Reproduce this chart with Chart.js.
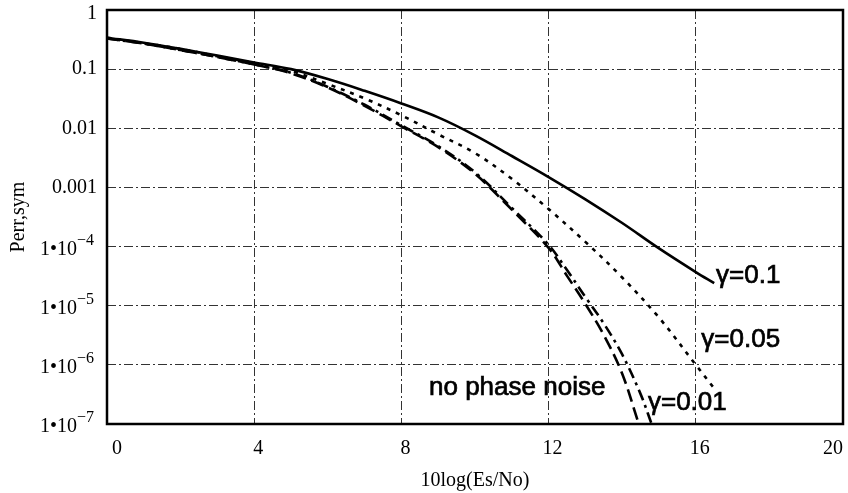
<!DOCTYPE html>
<html>
<head>
<meta charset="utf-8">
<script src="https://cdn.jsdelivr.net/npm/chart.js@4.4.0/dist/chart.umd.min.js"></script>
<style>
  html, body { margin: 0; padding: 0; background: #fff; }
</style>
</head>
<body>
<canvas id="perr" width="848" height="493"></canvas>
<script>
// ------- Data -------
// Es/No in dB
let xGamma10 = [0, 1, 2, 3, 4, 5, 6, 7, 8, 9, 10, 11, 12, 13, 14, 15, 16, 16.5];
let pGamma10 = [0.34, 0.28, 0.22, 0.17, 0.13, 0.1, 0.068, 0.043, 0.0263, 0.0153, 0.0076, 0.0034, 0.0015, 6.3e-4, 2.5e-4, 9.3e-5, 3.7e-5, 2.4e-5];

let xGamma05 = [0, 1, 2, 3, 4, 5, 6, 7, 8, 9, 10, 11, 12, 13, 14, 15, 16, 16.5];
let pGamma05 = [0.34, 0.275, 0.22, 0.165, 0.126, 0.093, 0.056, 0.032, 0.0166, 0.0079, 0.0038, 0.0014, 4.3e-4, 1.2e-4, 3.0e-5, 6.3e-6, 1.0e-6, 4.0e-7];

let xGamma01 = [0, 1, 2, 3, 4, 5, 6, 7, 8, 9, 10, 11, 12, 12.5, 13, 13.5, 14, 14.5, 14.8];
let pGamma01 = [0.33, 0.27, 0.21, 0.16, 0.12, 0.087, 0.05, 0.025, 0.0112, 0.005, 0.0018, 4.5e-4, 1.07e-4, 4.0e-5, 1.4e-5, 5.0e-6, 1.5e-6, 3.2e-7, 1.0e-7];

let xNoNoise = [0, 1, 2, 3, 4, 5, 6, 7, 8, 9, 10, 11, 12, 12.5, 13, 13.5, 14, 14.45];
let pNoNoise = [0.33, 0.27, 0.21, 0.16, 0.12, 0.085, 0.049, 0.024, 0.0108, 0.0048, 0.0017, 4.2e-4, 9.5e-5, 3.2e-5, 1.07e-5, 3.2e-6, 7.1e-7, 1.0e-7];

// axis ticks
let xTicks = [0, 4, 8, 12, 16, 20];
let yTicks = [1, 0.1, 0.01, 0.001, 1e-4, 1e-5, 1e-6, 1e-7];
let yTickBase = ["1", "0.1", "0.01", "0.001", "1\u202210", "1\u202210", "1\u202210", "1\u202210"];
let yTickExp = ["", "", "", "", "\u22124", "\u22125", "\u22126", "\u22127"];

// curve labels
let curveLabels = ["\u03b3=0.1", "\u03b3=0.05", "\u03b3=0.01", "no phase noise"];
let labelX = [16.55, 16.15, 14.7, 8.75];
let labelY = [2.4e-5, 2.0e-6, 1.7e-7, 3.1e-7];

function points(xs, ys) {
  return xs.map((x, i) => ({ x: x, y: ys[i] }));
}

// ------- Frame, tick labels, titles -------
const SERIF = "'Liberation Serif', 'Times New Roman', serif";
const SANS = "'Liberation Sans', Arial, sans-serif";

let decorations = {
  id: "decorations",
  afterDraw(chart) {
    let ctx = chart.ctx,
      area = chart.chartArea,
      xs = chart.scales.x,
      ys = chart.scales.y;
    ctx.save();

    // plot frame
    ctx.strokeStyle = "#000";
    ctx.lineWidth = 2.5;
    ctx.strokeRect(area.left, area.top, area.right - area.left, area.bottom - area.top);

    ctx.fillStyle = "#000";

    // y tick labels
    yTicks.forEach((v, i) => {
      let py = ys.getPixelForValue(v);
      if (i == 0) py += 4;
      if (yTickExp[i] == "") {
        ctx.font = "20px " + SERIF;
        ctx.textAlign = "right";
        ctx.textBaseline = "middle";
        ctx.fillText(yTickBase[i], 97, py);
      } else {
        ctx.font = "16px " + SERIF;
        let expW = ctx.measureText(yTickExp[i]).width;
        ctx.textAlign = "right";
        ctx.textBaseline = "alphabetic";
        ctx.fillText(yTickExp[i], 94, py - 2);
        ctx.font = "20px " + SERIF;
        ctx.fillText(yTickBase[i], 94 - expW, py + 8);
      }
    });

    // x tick labels
    ctx.font = "20px " + SERIF;
    ctx.textBaseline = "middle";
    xTicks.forEach((v, i) => {
      let px = xs.getPixelForValue(v);
      if (i == 0) {
        ctx.textAlign = "left";
        px += 5;
      } else if (i == xTicks.length - 1) {
        ctx.textAlign = "right";
      } else {
        ctx.textAlign = "center";
        px += 4;
      }
      ctx.fillText(String(v), px, 449);
    });

    // axis titles
    ctx.textAlign = "center";
    ctx.fillText("10log(Es/No)", (area.left + area.right) / 2, 481);
    ctx.save();
    ctx.translate(19, (area.top + area.bottom) / 2);
    ctx.rotate(-Math.PI / 2);
    ctx.fillText("Perr,sym", 0, 0);
    ctx.restore();

    // curve labels (slightly thickened, like the scan)
    ctx.font = "26px " + SANS;
    ctx.textAlign = "left";
    ctx.textBaseline = "alphabetic";
    ctx.strokeStyle = "#000";
    ctx.lineWidth = 0.7;
    curveLabels.forEach((t, i) => {
      let px = xs.getPixelForValue(labelX[i]),
        py = ys.getPixelForValue(labelY[i]);
      ctx.fillText(t, px, py);
      ctx.strokeText(t, px, py);
    });

    ctx.restore();
  },
};

// ------- Chart -------
let gridStyle = { color: "#333", lineWidth: 1, drawTicks: false };
let gridBorder = { display: false, dash: [9, 3, 2, 3] };

function series(label, xs, ys, dash) {
  return {
    label: label,
    data: points(xs, ys),
    borderColor: "#000",
    borderWidth: 2.6,
    borderDash: dash,
    pointRadius: 0,
    fill: false,
    tension: 0.35,
  };
}

new Chart("perr", {
  type: "line",
  data: {
    datasets: [
      series("\u03b3=0.1", xGamma10, pGamma10, []),
      series("\u03b3=0.05", xGamma05, pGamma05, [4, 6]),
      series("\u03b3=0.01", xGamma01, pGamma01, [11, 5, 3, 5]),
      series("no phase noise", xNoNoise, pNoNoise, [13, 6]),
    ],
  },
  options: {
    responsive: false,
    animation: false,
    devicePixelRatio: 1,
    layout: { padding: { top: 10, right: 5, left: 0, bottom: 0 } },
    plugins: {
      legend: { display: false },
      tooltip: { enabled: false },
    },
    scales: {
      x: {
        type: "linear",
        min: 0,
        max: 20,
        ticks: { stepSize: 4, display: false },
        grid: gridStyle,
        border: gridBorder,
        afterFit(scale) {
          scale.height = 69;
        },
      },
      y: {
        type: "logarithmic",
        min: 1e-7,
        max: 1,
        afterBuildTicks(scale) {
          scale.ticks = yTicks.map((v) => ({ value: v }));
        },
        ticks: { display: false },
        grid: gridStyle,
        border: gridBorder,
        afterFit(scale) {
          scale.width = 107;
        },
      },
    },
  },
  plugins: [decorations],
});
</script>
</body>
</html>
